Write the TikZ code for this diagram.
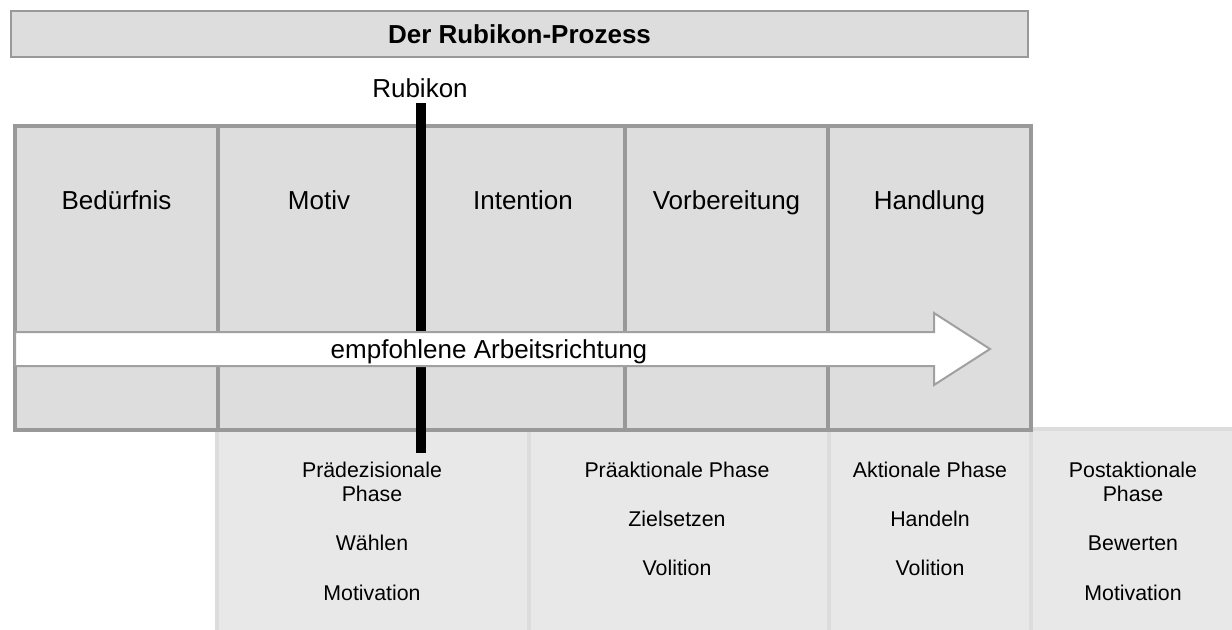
\documentclass[tikz,border=0pt]{standalone}
\usepackage{fontspec}
\setmainfont{Liberation Sans}
\definecolor{gridgray}{HTML}{999999}
\definecolor{cellfill}{HTML}{DDDDDD}
\definecolor{lowfill}{HTML}{E8E8E8}
\definecolor{lowline}{HTML}{DCDCDC}
\definecolor{arrowline}{HTML}{A0A0A0}
\begin{document}
\begin{tikzpicture}[x=0.75pt,y=-0.75pt,
  cellbox/.style={draw=gridgray, fill=cellfill, line width=3pt},
  lowbox/.style={draw=lowline, fill=lowfill, line width=3pt},
  titlebox/.style={draw=gridgray, fill=cellfill, line width=1.5pt, inner sep=0pt},
  bigtext/.style={font=\fontsize{19.5pt}{23pt}\selectfont, inner sep=0pt, anchor=base},
  smalltext/.style={font=\fontsize{16pt}{18.4pt}\selectfont, inner sep=0pt, anchor=base},
  flowarrow/.style={draw=arrowline, fill=white, line width=1.5pt, line join=miter}]
\useasboundingbox (0,0) rectangle (1232,629);

% title
\node[titlebox, minimum width=763pt, minimum height=35pt,
      font=\bfseries\fontsize{19.5pt}{23pt}\selectfont] (title) at (519.5,34) {Der Rubikon-Prozess};

% lower phase boxes
\draw[lowbox] (217,429) rectangle (529,640);
\draw[lowbox] (529,429) rectangle (829,640);
\draw[lowbox] (829,429) rectangle (1031,640);
\draw[lowbox] (1031,429) rectangle (1245,640);

% grid cells
\draw[cellbox] (15,126) rectangle (217.5,430);
\draw[cellbox] (217.5,126) rectangle (421,430);
\draw[cellbox] (421,126) rectangle (625,430);
\draw[cellbox] (625,126) rectangle (828,430);
\draw[cellbox] (828,126) rectangle (1031,430);

% Rubikon bar
\coordinate (bartop) at (421,103);
\coordinate (barbot) at (421,453);
\draw[line width=7.5pt, black] (bartop) -- (barbot);

% arrow
\draw[flowarrow] (15,332) -- (934,332) -- (934,313) -- (990,349) -- (934,385) -- (934,366) -- (15,366) -- cycle;
\node[bigtext] (arrowlbl) at (489,358) {empfohlene Arbeitsrichtung};

% labels
\node[bigtext] (rubikon) at (420,97) {Rubikon};
\node[bigtext] (beduerfnis) at (116.5,209) {Bedürfnis};
\node[bigtext] (motiv) at (319,209) {Motiv};
\node[bigtext] (intention) at (523,209) {Intention};
\node[bigtext] (vorbereitung) at (726.5,209) {Vorbereitung};
\node[bigtext] (handlung) at (929.5,209) {Handlung};

% phase texts
\node[smalltext] (p1a) at (372,477) {Prädezisionale};
\node[smalltext] (p1b) at (372,501) {Phase};
\node[smalltext] (p1c) at (372,550) {Wählen};
\node[smalltext] (p1d) at (372,600) {Motivation};

\node[smalltext] (p2a) at (677,477) {Präaktionale Phase};
\node[smalltext] (p2b) at (677,526) {Zielsetzen};
\node[smalltext] (p2c) at (677,575) {Volition};

\node[smalltext] (p3a) at (930,477) {Aktionale Phase};
\node[smalltext] (p3b) at (930,526) {Handeln};
\node[smalltext] (p3c) at (930,575) {Volition};

\node[smalltext] (p4a) at (1133,477) {Postaktionale};
\node[smalltext] (p4b) at (1133,501) {Phase};
\node[smalltext] (p4c) at (1133,550) {Bewerten};
\node[smalltext] (p4d) at (1133,600) {Motivation};
\end{tikzpicture}
\end{document}
